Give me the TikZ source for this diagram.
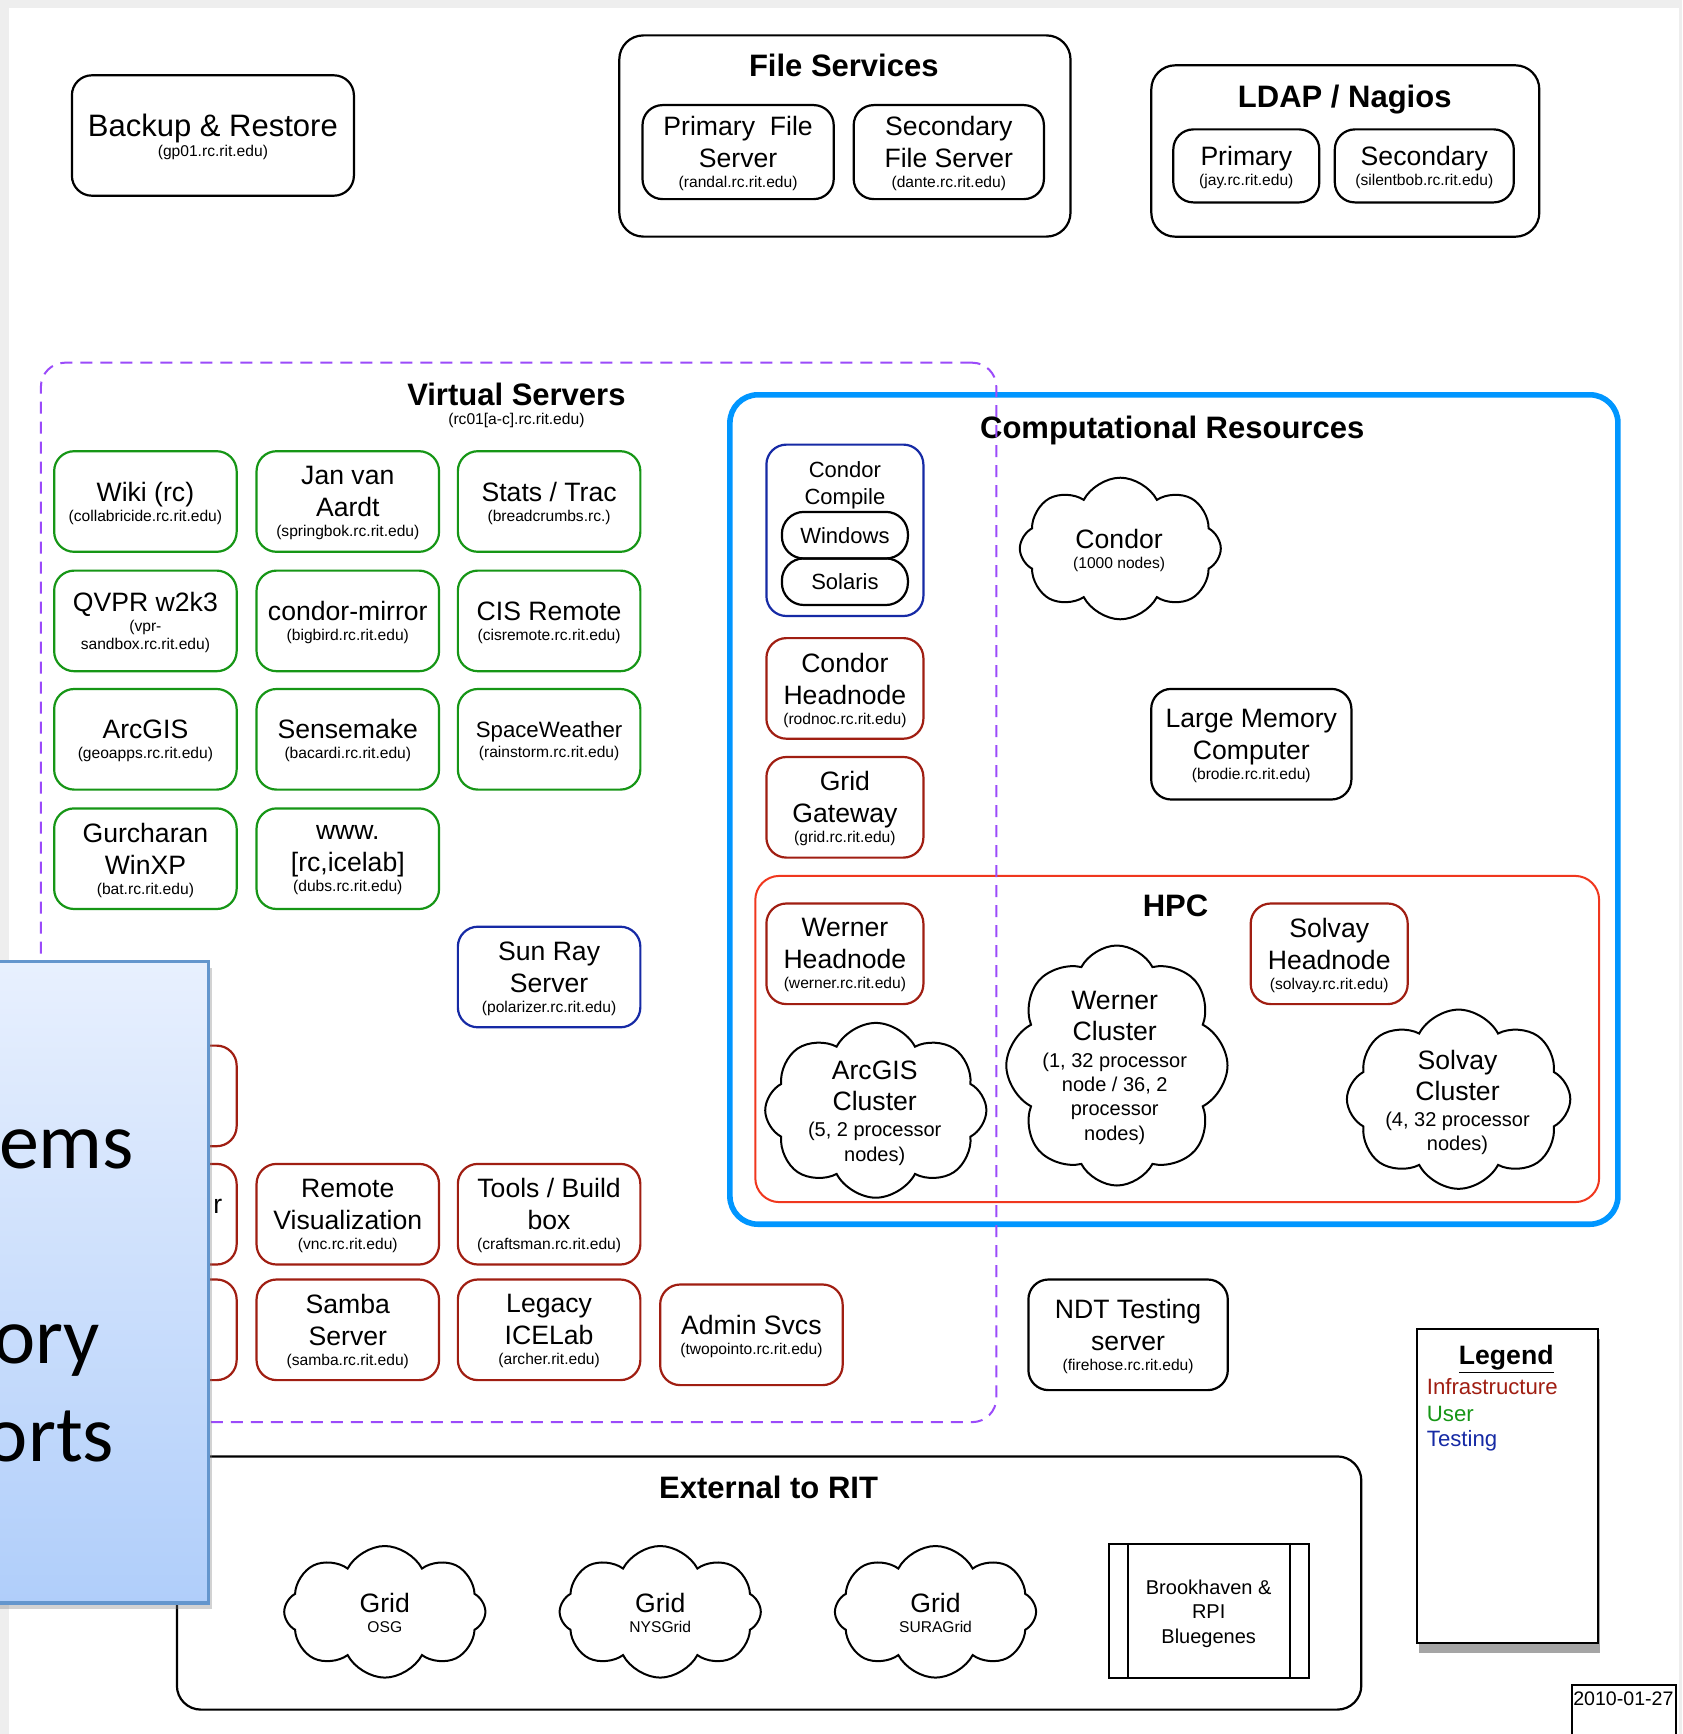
\documentclass[tikz,border=0pt]{standalone}
\usepackage{fontspec}
\setmainfont{Liberation Sans}
\newfontfamily\slidefont{Carlito}
\usepackage{tikz}
\usetikzlibrary{shapes.symbols, shadows, positioning}
\definecolor{usrgreen}{RGB}{22,150,22}
\definecolor{infrared}{RGB}{160,30,18}
\definecolor{tstblue}{RGB}{22,42,165}
\definecolor{vspurple}{RGB}{155,75,250}
\definecolor{compblue}{RGB}{0,150,255}
\definecolor{hpcred}{RGB}{240,55,30}
\definecolor{slidetop}{RGB}{232,240,254}
\definecolor{slidebot}{RGB}{176,206,250}
\definecolor{slideedge}{RGB}{100,150,205}
\definecolor{pagegray}{RGB}{238,238,238}
\newcommand{\lblfont}{\fontsize{13.3}{16}\selectfont}
\newcommand{\hst}[2][-6pt]{\\[#1]{\fontsize{7.8}{9}\selectfont\mdseries #2}}
\newcommand{\cldtl}[1]{{\fontsize{10}{12}\selectfont #1}}
\tikzset{
  srv/.style = {draw, rounded corners=10pt, line width=1.1pt, align=center,
    inner sep=0pt, font=\lblfont, minimum width=91.25pt, minimum height=50.3pt,
    text depth=-0.8pt},
  nar/.style = {minimum width=78.5pt},
  usr/.style = {srv, draw=usrgreen},
  infra/.style = {srv, draw=infrared},
  tst/.style = {srv, draw=tstblue},
  grp/.style = {draw, rounded corners=12pt, line width=1.1pt, inner sep=0pt},
  ttl/.style = {align=center, inner sep=0pt,
    font=\fontsize{15.5}{18}\selectfont\bfseries},
  puff/.style = {cloud, draw, cloud puffs=8, cloud puff arc=125,
    cloud ignores aspect, line width=1pt, inner sep=0pt},
  lbl/.style = {align=center, inner sep=0pt, font=\lblfont},
  cltxt/.style = {lbl, font=\fontsize{13.3}{15.5}\selectfont},
  legitem/.style = {anchor=west, inner sep=0pt, font=\fontsize{11.1}{13}\selectfont},
  slidetxt/.style = {anchor=base east, inner sep=0pt,
    font=\slidefont\fontsize{40}{48}\selectfont}
}

\begin{document}
\begin{tikzpicture}[x=0.5pt, y=-0.5pt]
\useasboundingbox (0,0) rectangle (1682,1734);
\fill[pagegray] (0,0) rectangle (1682,1734);
\fill[white] (9,8) rectangle (1679,1734);

\node[srv, minimum width=141pt, minimum height=60.2pt, text depth=-1.6pt,
  font=\fontsize{15.5}{18}\selectfont] (backup) at (212.9,135.5)
  {Backup \& Restore\hst[-8pt]{(gp01.rc.rit.edu)}};

\node[grp, minimum width=225.6pt, minimum height=100.6pt] (filesvc) at (844.9,136) {};
\node[ttl] (filettl) at (843.8,65.2) {File Services};
\node[srv, minimum width=95.6pt, minimum height=47pt] (prifs) at (738.1,152.1)
  {Primary\ \ File\\Server\hst{(randal.rc.rit.edu)}};
\node[srv, minimum width=95.1pt, minimum height=47pt] (secfs) at (948.8,152.1)
  {Secondary\\File Server\hst{(dante.rc.rit.edu)}};

\node[grp, minimum width=194pt, minimum height=85.7pt] (ldap) at (1345.3,151) {};
\node[ttl] (ldapttl) at (1344.7,99.5) {LDAP / Nagios};
\node[srv, minimum width=73pt, minimum height=36.5pt] (ldappri) at (1246.3,165.9)
  {Primary\hst{(jay.rc.rit.edu)}};
\node[srv, minimum width=89.5pt, minimum height=36.5pt] (ldapsec) at (1424.3,165.9)
  {Secondary\hst{(silentbob.rc.rit.edu)}};

\node[grp, draw=compblue, line width=2.8pt, rounded corners=14pt,
  minimum width=444pt, minimum height=414.7pt] (comp) at (1173.9,809.5) {};
\node[ttl] (compttl) at (1172.2,430.2) {Computational Resources};
\node[tst, nar, minimum height=85.7pt] (ccomp) at (844.9,530.3) {};
\node[lbl, font=\fontsize{11}{13.8}\selectfont] (ccomptxt) at (844.9,485.5) {Condor\\Compile};
\node[srv, minimum width=63pt, minimum height=23.3pt, rounded corners=11pt,
  font=\fontsize{11}{13}\selectfont] (win) at (844.9,535.2) {Windows};
\node[srv, minimum width=63pt, minimum height=23.3pt, rounded corners=11pt,
  font=\fontsize{11}{13}\selectfont] (sol) at (844.9,581.7) {Solaris};
\node[infra, nar] (condorhead) at (844.9,688.4) {Condor\\Headnode\hst{(rodnoc.rc.rit.edu)}};
\node[infra, nar] (gridgw) at (844.9,807.3) {Grid\\Gateway\hst{(grid.rc.rit.edu)}};
\node[puff, minimum width=100.5pt, minimum height=70.8pt] (condor) at (1120.3,548.5) {};
\node[lbl] (condortxt) at (1119.1,550.7) {Condor\hst{(1000 nodes)}};
\node[srv, minimum width=100.1pt, minimum height=55.3pt] (bigmem) at (1251.3,744.2)
  {Large Memory\\Computer\hst{(brodie.rc.rit.edu)}};

\node[grp, draw=hpcred, line width=1pt, minimum width=421.9pt, minimum height=163.1pt]
  (hpc) at (1177.2,1039) {};
\node[ttl] (hpcttl) at (1175.5,905.7) {HPC};
\node[infra, nar] (wernerhead) at (844.9,953.8) {Werner\\Headnode\hst{(werner.rc.rit.edu)}};
\node[infra, nar] (solvayhead) at (1329.2,953.8) {Solvay\\Headnode\hst{(solvay.rc.rit.edu)}};
\node[puff, minimum width=110.6pt, minimum height=87.4pt] (arcgiscl) at (875.8,1110.3) {};
\node[cltxt] (arcgistxt) at (874.7,1113)
  {ArcGIS\\Cluster\\[-2.3pt]\cldtl{(5, 2 processor}\\[-3.3pt]\cldtl{nodes)}};
\node[puff, minimum width=110.6pt, minimum height=120pt] (wernercl) at (1116.9,1065.5) {};
\node[cltxt] (wernertxt) at (1114.7,1068)
  {Werner\\Cluster\\[-2.3pt]\cldtl{(1, 32 processor}\\[-3.3pt]\cldtl{node / 36, 2}%
  \\[-3.3pt]\cldtl{processor}\\[-3.3pt]\cldtl{nodes)}};
\node[puff, minimum width=111.7pt, minimum height=89.6pt] (solvaycl) at (1458.6,1099.2) {};
\node[cltxt] (solvaytxt) at (1457.5,1102.5)
  {Solvay\\Cluster\\[-2.3pt]\cldtl{(4, 32 processor}\\[-3.3pt]\cldtl{nodes)}};

\node[srv, minimum width=99.7pt, minimum height=55.3pt] (ndt) at (1128.1,1334.8)
  {NDT Testing\\server\hst{(firehose.rc.rit.edu)}};

\node[grp, minimum width=592.2pt, minimum height=126.6pt] (ext) at (769.1,1583) {};
\node[ttl] (extttl) at (768.6,1487.4) {External to RIT};
\node[puff, minimum width=100.6pt, minimum height=65.8pt] (osg) at (384.8,1611.8) {};
\node[lbl] (osgtxt) at (384.8,1613) {Grid\hst{OSG}};
\node[puff, minimum width=100.6pt, minimum height=65.8pt] (nysgrid) at (660.2,1611.8) {};
\node[lbl] (nysgridtxt) at (660.2,1613) {Grid\hst{NYSGrid}};
\node[puff, minimum width=100.6pt, minimum height=65.8pt] (suragrid) at (935.5,1611.8) {};
\node[lbl] (suragridtxt) at (935.5,1613) {Grid\hst{SURAGrid}};
\node[draw, line width=1pt, minimum width=100.1pt, minimum height=66.9pt] (bnl) at (1209.2,1610.7) {};
\draw[line width=1pt] ([xshift=10pt]bnl.north west) -- ([xshift=10pt]bnl.south west);
\draw[line width=1pt] ([xshift=-10pt]bnl.north east) -- ([xshift=-10pt]bnl.south east);
\node[lbl, font=\fontsize{10}{12.2}\selectfont] (bnltxt) at (1208.7,1613.5)
  {Brookhaven \&\\RPI\\Bluegenes};

\node[draw, line width=1.1pt, fill=white, minimum width=90.7pt, minimum height=157pt,
  drop shadow={shadow xshift=1pt, shadow yshift=-5pt, opacity=.5, fill=black!70}] (legend) at (1507.3,1486.3) {};
\node[inner sep=0pt, font=\fontsize{13.3}{16}\selectfont\bfseries] (legttl) at (1506.2,1359.5) {\underline{Legend}};
\node[legitem, text=infrared] (leginf) at (1426.5,1386.5) {Infrastructure};
\node[legitem, text=usrgreen] (legusr) at (1426.5,1413.5) {User};
\node[legitem, text=tstblue] (legtst) at (1426.5,1440.5) {Testing};

\node[draw, line width=1pt, anchor=north west, minimum width=52pt, minimum height=30pt,
  inner sep=0pt] (datebox) at (1571.4,1684.2) {};
\node[inner sep=0pt, font=\fontsize{9.8}{12}\selectfont] (datetxt) at (1623.4,1698.5) {2010-01-27};

\node[grp, draw=vspurple, dashed, dash pattern=on 6pt off 4pt, line width=1pt,
  minimum width=477.7pt, minimum height=529.7pt] (virt) at (518.6,892.4) {};
\node[ttl] (virtttl) at (516.4,405) {Virtual Servers\hst[-8.5pt]{(rc01[a-c].rc.rit.edu)}};
\node[usr] (wiki) at (145.4,501.5) {Wiki (rc)\hst{(collabricide.rc.rit.edu)}};
\node[usr] (janvan) at (347.8,501.5) {Jan van\\Aardt\hst{(springbok.rc.rit.edu)}};
\node[usr] (stats) at (549.1,501.5) {Stats / Trac\hst{(breadcrumbs.rc.)}};
\node[usr] (qvpr) at (145.4,620.9) {QVPR w2k3\hst{(vpr-}\hst[-7pt]{sandbox.rc.rit.edu)}};
\node[usr] (cmirror) at (347.8,620.9) {condor-mirror\hst{(bigbird.rc.rit.edu)}};
\node[usr] (cisrem) at (549.1,620.9) {CIS Remote\hst{(cisremote.rc.rit.edu)}};
\node[usr] (arcgis) at (145.4,739.3) {ArcGIS\hst{(geoapps.rc.rit.edu)}};
\node[usr] (sensemake) at (347.8,739.3) {Sensemake\hst{(bacardi.rc.rit.edu)}};
\node[usr] (spacewx) at (549.1,739.3)
  {{\fontsize{11.1}{13}\selectfont SpaceWeather}\hst{(rainstorm.rc.rit.edu)}};
\node[usr] (gurcharan) at (145.4,858.7) {Gurcharan\\WinXP\hst{(bat.rc.rit.edu)}};
\node[usr] (www) at (347.8,858.7) {www.\\{[rc,icelab]}\hst{(dubs.rc.rit.edu)}};
\node[tst] (sunray) at (549.1,977) {Sun Ray\\Server\hst{(polarizer.rc.rit.edu)}};
\node[infra] (hidA) at (145.4,1095.9) {};
\node[infra] (hidB) at (145.4,1214.2) {};
\node[infra] (hidC) at (145.4,1329.8) {};
\node[lbl] (hidBtxt) at (217.9,1206.5) {r};
\node[infra] (remvis) at (347.8,1214.2) {Remote\\Visualization\hst{(vnc.rc.rit.edu)}};
\node[infra] (tools) at (549.1,1214.2) {Tools / Build\\box\hst{(craftsman.rc.rit.edu)}};
\node[infra] (samba) at (347.8,1329.8) {Samba\\Server\hst{(samba.rc.rit.edu)}};
\node[infra] (legacy) at (549.1,1329.8) {Legacy\\ICELab\hst{(archer.rit.edu)}};
\node[infra] (admin) at (751.4,1334.8) {Admin Svcs\hst{(twopointo.rc.rit.edu)}};

\node[draw=slideedge, line width=1.7pt, top color=slidetop, bottom color=slidebot,
  minimum width=300pt, minimum height=320.7pt, anchor=north east,
  drop shadow={shadow xshift=2pt, shadow yshift=-3pt, opacity=.35}] (slide) at (210.1,959.9) {};
\node[slidetxt] (slideA) at (134.5,1168) {ems};
\node[slidetxt] (slideB) at (100.5,1363.5) {ory};
\node[slidetxt] (slideC) at (114.5,1461) {orts};
\end{tikzpicture}
\end{document}
